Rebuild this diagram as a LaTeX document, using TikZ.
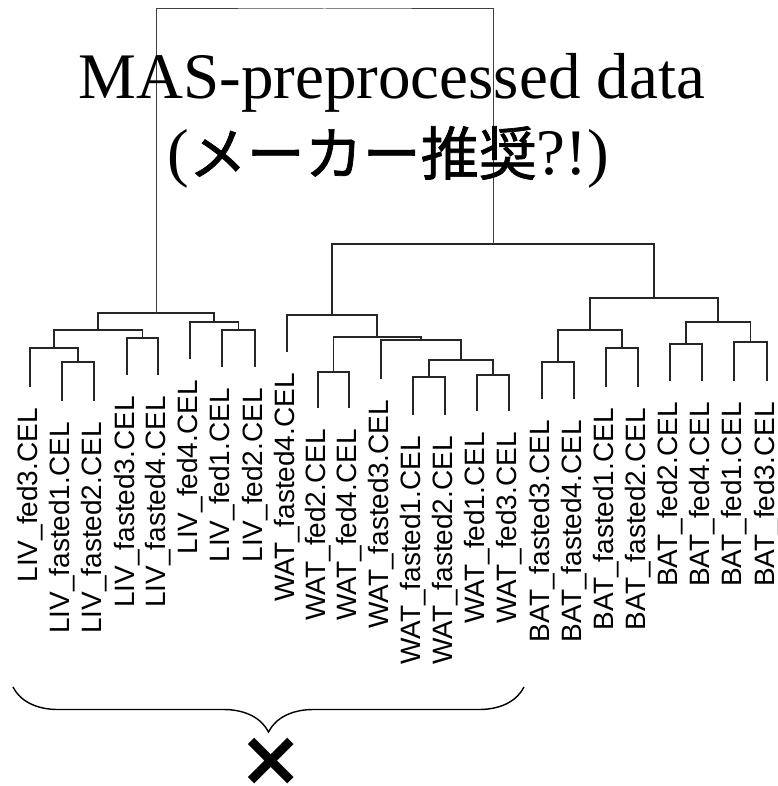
\documentclass[tikz,border=0pt]{standalone}
\usepackage{fontspec}
\setmainfont{Liberation Serif}
\newfontfamily\labelfont{Liberation Sans}
\newfontfamily\jpfont[FakeBold=1.2]{Noto Sans CJK JP}
\newfontfamily\markfont{DejaVu Sans}
\usepackage{tikz}
\usetikzlibrary{decorations.pathreplacing}
\usetikzlibrary{positioning}

\begin{document}
\begin{tikzpicture}[x=1pt,y=-1pt,
    branch/.style={line width=1.4pt,black!85},
    trunk/.style={line width=1pt,black!75},
    leaflabel/.style={rotate=90,anchor=east,inner sep=0pt,font=\labelfont\fontsize{28}{28}\selectfont},
    heading/.style={anchor=base,inner sep=0pt,font=\fontsize{65}{65}\selectfont}]

  \useasboundingbox (0,0) rectangle (777,786);

  % leaf ends
  \coordinate (l1)  at (30,387);   \coordinate (l2)  at (62,401);
  \coordinate (l3)  at (94,401);   \coordinate (l4)  at (127,375);
  \coordinate (l5)  at (158,375);  \coordinate (l6)  at (190,359);
  \coordinate (l7)  at (222,367);  \coordinate (l8)  at (255,367);
  \coordinate (l9)  at (287,352);  \coordinate (l10) at (318,408);
  \coordinate (l11) at (349,408);  \coordinate (l12) at (381,379);
  \coordinate (l13) at (413,415);  \coordinate (l14) at (445,415);
  \coordinate (l15) at (477,411);  \coordinate (l16) at (509,411);
  \coordinate (l17) at (542,399);  \coordinate (l18) at (574,399);
  \coordinate (l19) at (606,387);  \coordinate (l20) at (638,387);
  \coordinate (l21) at (670,381);  \coordinate (l22) at (702,381);
  \coordinate (l23) at (734,381);  \coordinate (l24) at (767,381);

  % merges
  \coordinate (m23)   at (78,362);
  \coordinate (m123)  at (54,348);
  \coordinate (m45)   at (142.5,338);
  \coordinate (m15)   at (98,330);
  \coordinate (m78)   at (238.5,330);
  \coordinate (m68)   at (214,322);
  \coordinate (liv)   at (156,313);
  \coordinate (m1011) at (333.5,372);
  \coordinate (m1314) at (429,377);
  \coordinate (m1516) at (493,375);
  \coordinate (m1316) at (461,360);
  \coordinate (m1216) at (421,340);
  \coordinate (m1016) at (377,337);
  \coordinate (wat)   at (332,315);
  \coordinate (m1718) at (558,362);
  \coordinate (m1920) at (622,348);
  \coordinate (m1720) at (590,330);
  \coordinate (m2122) at (686,344);
  \coordinate (m2324) at (750.5,342);
  \coordinate (m2124) at (718,322);
  \coordinate (bat)   at (654,298);
  \coordinate (wb)    at (493,244);
  \coordinate (root)  at (324.5,9);

  \draw[branch] (l2) |- (m23) -| (l3);
  \draw[branch] (l1) |- (m123) -| (m23);
  \draw[branch] (l4) |- (m45) -| (l5);
  \draw[branch] (m123) |- (m15) -| (m45);
  \draw[branch] (l7) |- (m78) -| (l8);
  \draw[branch] (l6) |- (m68) -| (m78);
  \draw[branch] (m15) |- (liv) -| (m68);
  \draw[branch] (l10) |- (m1011) -| (l11);
  \draw[branch] (l13) |- (m1314) -| (l14);
  \draw[branch] (l15) |- (m1516) -| (l16);
  \draw[branch] (m1314) |- (m1316) -| (m1516);
  \draw[branch] (l12) |- (m1216) -| (m1316);
  \draw[branch] (m1011) |- (m1016) -| (m1216);
  \draw[branch] (l9) |- (wat) -| (m1016);
  \draw[branch] (l17) |- (m1718) -| (l18);
  \draw[branch] (l19) |- (m1920) -| (l20);
  \draw[branch] (m1718) |- (m1720) -| (m1920);
  \draw[branch] (l21) |- (m2122) -| (l22);
  \draw[branch] (l23) |- (m2324) -| (l24);
  \draw[branch] (m2122) |- (m2124) -| (m2324);
  \draw[branch] (m1720) |- (bat) -| (m2124);
  \draw[branch] (wat) |- (wb) -| (bat);
  \draw[trunk]  (liv) |- (root) -| (wb);

  % sample names
  \node[leaflabel] (t1)  at ([yshift=-21pt]l1)  {LIV\_fed3.CEL};
  \node[leaflabel] (t2)  at ([yshift=-21pt]l2)  {LIV\_fasted1.CEL};
  \node[leaflabel] (t3)  at ([yshift=-21pt]l3)  {LIV\_fasted2.CEL};
  \node[leaflabel] (t4)  at ([yshift=-21pt]l4)  {LIV\_fasted3.CEL};
  \node[leaflabel] (t5)  at ([yshift=-21pt]l5)  {LIV\_fasted4.CEL};
  \node[leaflabel] (t6)  at ([yshift=-21pt]l6)  {LIV\_fed4.CEL};
  \node[leaflabel] (t7)  at ([yshift=-21pt]l7)  {LIV\_fed1.CEL};
  \node[leaflabel] (t8)  at ([yshift=-21pt]l8)  {LIV\_fed2.CEL};
  \node[leaflabel] (t9)  at ([yshift=-21pt]l9)  {WAT\_fasted4.CEL};
  \node[leaflabel] (t10) at ([yshift=-21pt]l10) {WAT\_fed2.CEL};
  \node[leaflabel] (t11) at ([yshift=-21pt]l11) {WAT\_fed4.CEL};
  \node[leaflabel] (t12) at ([yshift=-21pt]l12) {WAT\_fasted3.CEL};
  \node[leaflabel] (t13) at ([yshift=-21pt]l13) {WAT\_fasted1.CEL};
  \node[leaflabel] (t14) at ([yshift=-21pt]l14) {WAT\_fasted2.CEL};
  \node[leaflabel] (t15) at ([yshift=-21pt]l15) {WAT\_fed1.CEL};
  \node[leaflabel] (t16) at ([yshift=-21pt]l16) {WAT\_fed3.CEL};
  \node[leaflabel] (t17) at ([yshift=-21pt]l17) {BAT\_fasted3.CEL};
  \node[leaflabel] (t18) at ([yshift=-21pt]l18) {BAT\_fasted4.CEL};
  \node[leaflabel] (t19) at ([yshift=-21pt]l19) {BAT\_fasted1.CEL};
  \node[leaflabel] (t20) at ([yshift=-21pt]l20) {BAT\_fasted2.CEL};
  \node[leaflabel] (t21) at ([yshift=-21pt]l21) {BAT\_fed2.CEL};
  \node[leaflabel] (t22) at ([yshift=-21pt]l22) {BAT\_fed4.CEL};
  \node[leaflabel] (t23) at ([yshift=-21pt]l23) {BAT\_fed1.CEL};
  \node[leaflabel] (t24) at ([yshift=-21pt]l24) {BAT\_fed3.CEL};

  % title
  \node[heading] (title) at (392,99) {MAS-preprocessed data};
  \node[heading] (subtitle) at (388,175) {({\jpfont\fontsize{58}{58}\selectfont メーカー推奨}?!)};

  % brace and mark
  \coordinate (bl) at (13,687);
  \coordinate (br) at (524,687);
  \draw[line width=1.4pt,decorate,decoration={brace,amplitude=45pt,mirror}] (bl) -- (br);
  \node[inner sep=0pt,font=\markfont\bfseries\fontsize{78}{78}\selectfont] (cross) at (271.5,761.5) {×};
\end{tikzpicture}
\end{document}
